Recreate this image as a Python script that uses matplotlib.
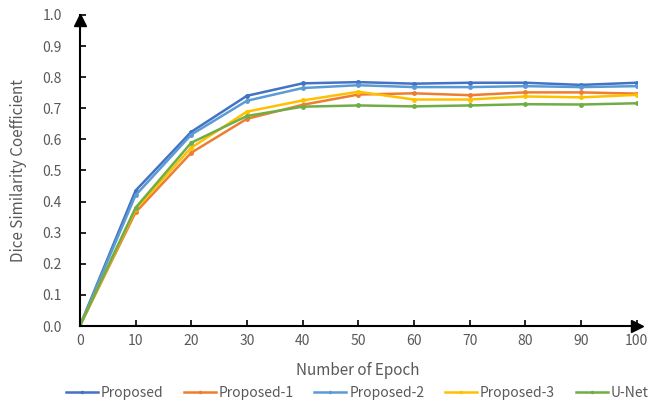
import matplotlib
matplotlib.use("Agg")
import matplotlib.pyplot as plt

plt.rcParams['font.family'] = ['Noto Sans CJK SC', 'DejaVu Sans']

epochs = [0, 10, 20, 30, 40, 50, 60, 70, 80, 90, 100]
proposed   = [0.0, 0.435, 0.624, 0.740, 0.780, 0.784, 0.779, 0.782, 0.782, 0.775, 0.782]
proposed_1 = [0.0, 0.365, 0.557, 0.666, 0.711, 0.744, 0.748, 0.742, 0.751, 0.751, 0.747]
proposed_2 = [0.0, 0.420, 0.615, 0.724, 0.765, 0.774, 0.768, 0.768, 0.771, 0.768, 0.771]
proposed_3 = [0.0, 0.375, 0.573, 0.689, 0.725, 0.753, 0.728, 0.728, 0.738, 0.735, 0.743]
unet       = [0.0, 0.380, 0.589, 0.675, 0.705, 0.709, 0.706, 0.709, 0.713, 0.712, 0.716]

series = [
    ("Proposed", proposed, "#4472C4"),
    ("Proposed-1", proposed_1, "#ED7D31"),
    ("Proposed-2", proposed_2, "#5B9BD5"),
    ("Proposed-3", proposed_3, "#FFC000"),
    ("U-Net", unet, "#70AD47"),
]

fig = plt.figure(figsize=(6.49, 4.03), dpi=100)
ax = fig.add_axes([0.123, 0.191, 0.858, 0.772])

for name, vals, col in series:
    ax.plot(epochs, vals, color=col, lw=1.8, marker='o', ms=2.5, label=name)

ax.set_xlim(0, 100)
ax.set_ylim(0, 1.0)
ax.set_xticks(range(0, 101, 10))
ax.set_yticks([i / 10 for i in range(11)])
ax.set_yticklabels([f"{i/10:.1f}" for i in range(11)])

for s in ['top', 'right']:
    ax.spines[s].set_visible(False)
for s in ['left', 'bottom']:
    ax.spines[s].set_color('black')
    ax.spines[s].set_linewidth(1.5)

ax.tick_params(axis='both', direction='in', length=4, width=1.2, color='black',
               labelcolor='#595959', labelsize=10)
ax.tick_params(axis='x', pad=6)
ax.tick_params(axis='y', pad=13)

# arrow heads
ax.plot(1, 0, marker='>', ms=8, color='black', transform=ax.transAxes, clip_on=False)
ax.plot(0, 0.985, marker='^', ms=8, color='black', transform=ax.transAxes, clip_on=False)

ax.set_xlabel("Number of Epoch", color='#595959', fontsize=11, labelpad=10)
ax.set_ylabel("Dice Similarity Coefficient", color='#595959', fontsize=11, labelpad=11)

handles, labels = ax.get_legend_handles_labels()
leg = fig.legend(handles, labels, loc='center', bbox_to_anchor=(0.55, 0.026), ncol=5,
                 frameon=False, fontsize=10, handlelength=2.3, columnspacing=1.5,
                 handletextpad=0.2, borderaxespad=0, borderpad=0)
for t in leg.get_texts():
    t.set_color('#595959')
for h in leg.legend_handles:
    h.set_markersize(1.5)

fig.savefig("out.png", dpi=100)
